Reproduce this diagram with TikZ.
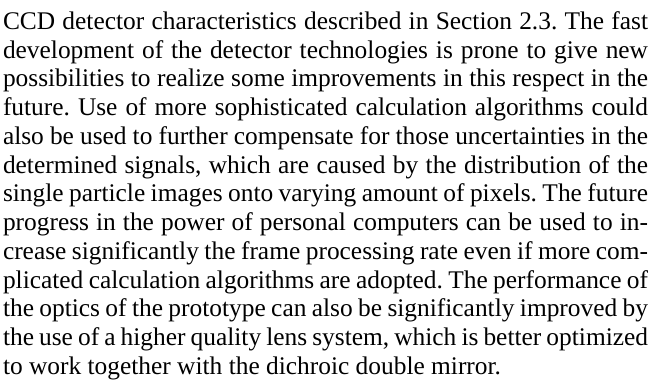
\documentclass[tikz,border=0pt]{standalone}
\usepackage{fontspec}
\setmainfont{Liberation Serif}
\hbadness=10000 \hfuzz=50pt
\frenchspacing
\tikzset{txtline/.style={anchor=base west, inner sep=0pt, outer sep=0pt, font=\fontsize{25.4}{28.8}\selectfont}}
\newcommand{\jline}[1]{\hbox to 645pt{#1}}
\begin{document}
\begin{tikzpicture}[x=1pt,y=1pt]
\useasboundingbox (0,0) rectangle (653,384);
\def\lsp{28.75}
\node[txtline] (l1) at (3,{384-29.3-0*\lsp}) {\jline{CCD detector characteristics described in Section 2.3. The fast}};
\node[txtline] (l2) at (3,{384-29.3-1*\lsp}) {\jline{development of the detector technologies is prone to give new}};
\node[txtline] (l3) at (3,{384-29.3-2*\lsp}) {\jline{possibilities to realize some improvements in this respect in the}};
\node[txtline] (l4) at (3,{384-29.3-3*\lsp}) {\jline{future. Use of more sophisticated calculation algorithms could}};
\node[txtline] (l5) at (3,{384-29.3-4*\lsp}) {\jline{also be used to further compensate for those uncertainties in the}};
\node[txtline] (l6) at (3,{384-29.3-5*\lsp}) {\jline{determined signals, which are caused by the distribution of the}};
\node[txtline] (l7) at (3,{384-29.3-6*\lsp}) {\jline{single particle images onto varying amount of pixels. The future}};
\node[txtline] (l8) at (3,{384-29.3-7*\lsp}) {\jline{progress in the power of personal computers can be used to in-}};
\node[txtline] (l9) at (3,{384-29.3-8*\lsp}) {\jline{crease significantly the frame processing rate even if more com-}};
\node[txtline] (l10) at (3,{384-29.3-9*\lsp}) {\jline{plicated calculation algorithms are adopted. The performance of}};
\node[txtline] (l11) at (3,{384-29.3-10*\lsp}) {\jline{the optics of the prototype can also be significantly improved by}};
\node[txtline] (l12) at (3,{384-29.3-11*\lsp}) {\jline{the use of a higher quality lens system, which is better optimized}};
\node[txtline] (l13) at (3,{384-29.3-12*\lsp}) {to work together with the dichroic double mirror.};
\end{tikzpicture}
\end{document}
